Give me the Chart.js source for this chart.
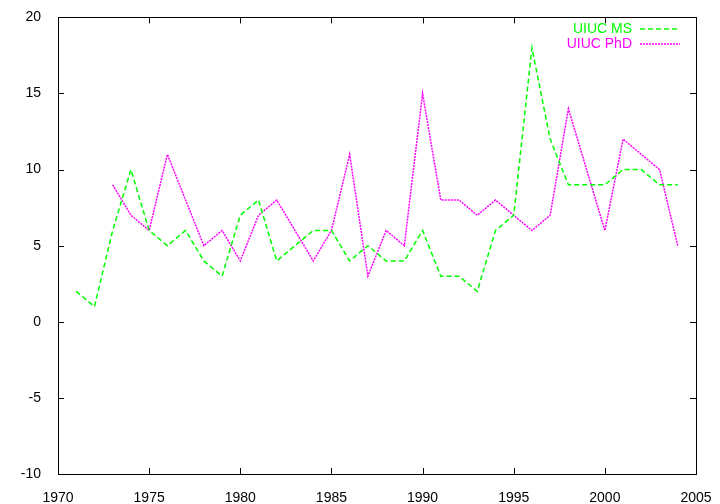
<!DOCTYPE html>
<html>
<head>
<meta charset="utf-8">
<script src="https://cdn.jsdelivr.net/npm/chart.js@4/dist/chart.umd.min.js"></script>
<style>
  html, body { margin: 0; padding: 0; background: #fff; }
  #wrap { width: 720px; height: 504px; }
</style>
</head>
<body>
<div id="wrap"><canvas id="chart" width="720" height="504"></canvas></div>
<script>
const msYears = [1971, 1972, 1973, 1974, 1975, 1976, 1977, 1978, 1979, 1980, 1981, 1982, 1983, 1984, 1985, 1986, 1987,
  1988, 1989, 1990, 1991, 1992, 1993, 1994, 1995, 1996, 1997, 1998, 1999, 2000, 2001, 2002, 2003, 2004];
const msValues = [2, 1, 6, 10, 6, 5, 6, 4, 3, 7, 8, 4, 5, 6, 6, 4, 5,
  4, 4, 6, 3, 3, 2, 6, 7, 18, 12, 9, 9, 9, 10, 10, 9, 9];
const phdYears = [1973, 1974, 1975, 1976, 1977, 1978, 1979, 1980, 1981, 1982, 1983, 1984, 1985, 1986, 1987,
  1988, 1989, 1990, 1991, 1992, 1993, 1994, 1995, 1996, 1997, 1998, 1999, 2000, 2001, 2002, 2003, 2004];
const phdValues = [9, 7, 6, 11, 8, 5, 6, 4, 7, 8, 6, 4, 6, 11, 3,
  6, 5, 15, 8, 8, 7, 8, 7, 6, 7, 14, 10, 6, 12, 11, 10, 5];
const xTicks = [1970, 1975, 1980, 1985, 1990, 1995, 2000, 2005];
const yTicks = [-10, -5, 0, 5, 10, 15, 20];
const seriesNames = ["UIUC MS", "UIUC PhD"];

const GREEN = "#00ff00";
const MAGENTA = "#ff00ff";
const FONT = "'Liberation Sans', Arial, sans-serif";
const MS_DASH = [5, 3];
const PHD_DASH = [2, 1];

// gnuplot-style frame with inward ticks on all four sides, plus legend
const framePlugin = {
  id: "frame",
  afterDatasetsDraw(chart) {
    const { ctx, chartArea: a, scales } = chart;
    const len = 6;
    ctx.save();
    ctx.strokeStyle = "#000";
    ctx.lineWidth = 1;
    ctx.setLineDash([]);
    ctx.beginPath();
    xTicks.forEach((v) => {
      const x = Math.round(scales.x.getPixelForValue(v)) + 0.5;
      ctx.moveTo(x, a.bottom); ctx.lineTo(x, a.bottom - len);
      ctx.moveTo(x, a.top); ctx.lineTo(x, a.top + len);
    });
    yTicks.forEach((v) => {
      const y = Math.round(scales.y.getPixelForValue(v)) + 0.5;
      ctx.moveTo(a.left, y); ctx.lineTo(a.left + len, y);
      ctx.moveTo(a.right, y); ctx.lineTo(a.right - len, y);
    });
    ctx.stroke();
    ctx.strokeRect(Math.round(a.left) + 0.5, Math.round(a.top) + 0.5,
      Math.round(a.right - a.left), Math.round(a.bottom - a.top));

    // legend
    ctx.font = "14px " + FONT;
    ctx.textAlign = "right";
    ctx.textBaseline = "middle";
    const items = [
      { name: seriesNames[0], color: GREEN, dash: MS_DASH, y: 29 },
      { name: seriesNames[1], color: MAGENTA, dash: PHD_DASH, y: 44 }
    ];
    items.forEach((it) => {
      ctx.fillStyle = it.color;
      ctx.fillText(it.name, 632, it.y);
      ctx.strokeStyle = it.color;
      ctx.lineWidth = 1.5;
      ctx.setLineDash(it.dash);
      ctx.beginPath();
      ctx.moveTo(640, it.y);
      ctx.lineTo(680, it.y);
      ctx.stroke();
    });
    ctx.restore();
  }
};

new Chart(document.getElementById("chart"), {
  type: "line",
  data: {
    datasets: [
      {
        label: seriesNames[0],
        data: msYears.map((x, i) => ({ x, y: msValues[i] })),
        borderColor: GREEN,
        borderWidth: 1.5,
        borderDash: MS_DASH,
        pointRadius: 0,
        tension: 0
      },
      {
        label: seriesNames[1],
        data: phdYears.map((x, i) => ({ x, y: phdValues[i] })),
        borderColor: MAGENTA,
        borderWidth: 1.5,
        borderDash: PHD_DASH,
        pointRadius: 0,
        tension: 0
      }
    ]
  },
  options: {
    responsive: false,
    animation: false,
    layout: { padding: { top: 16, right: 24, left: 0, bottom: 0 } },
    plugins: {
      legend: { display: false },
      tooltip: { enabled: false }
    },
    scales: {
      x: {
        type: "linear",
        min: 1970,
        max: 2005,
        afterBuildTicks: (s) => { s.ticks = xTicks.map((v) => ({ value: v })); },
        afterFit: (s) => { s.height = 30; },
        grid: { display: false },
        border: { display: false },
        ticks: {
          color: "#000",
          font: { family: FONT, size: 14 },
          padding: 8,
          maxRotation: 0,
          callback: (v) => String(v)
        }
      },
      y: {
        min: -10,
        max: 20,
        afterBuildTicks: (s) => { s.ticks = yTicks.map((v) => ({ value: v })); },
        afterFit: (s) => { s.width = 58; },
        grid: { display: false },
        border: { display: false },
        ticks: {
          color: "#000",
          font: { family: FONT, size: 14 },
          padding: 9
        }
      }
    }
  },
  plugins: [framePlugin]
});
</script>
</body>
</html>
